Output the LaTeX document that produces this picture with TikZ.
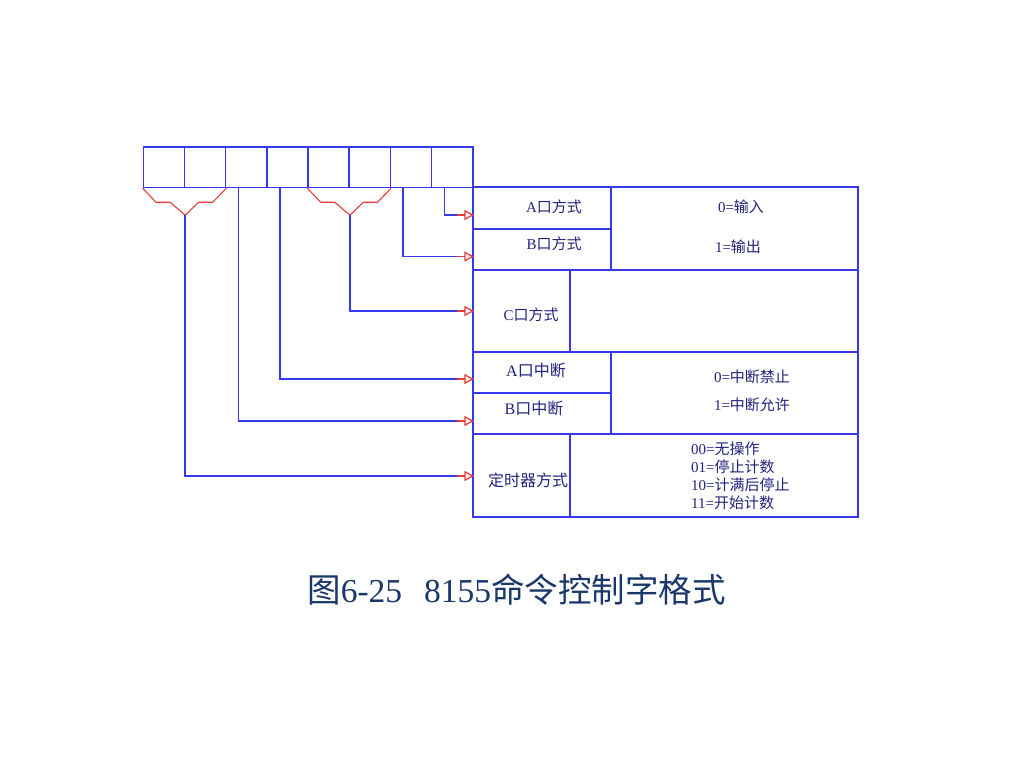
\documentclass[tikz,border=0pt]{standalone}
\usepackage{fontspec}
\setmainfont{Liberation Serif}
\newfontfamily\cjk{Noto Sans CJK SC}
\usetikzlibrary{arrows.meta}
\definecolor{lineblue}{RGB}{55,55,235}
\definecolor{txtblue}{RGB}{35,35,125}
\definecolor{capblue}{RGB}{25,55,105}
\definecolor{tipred}{RGB}{235,60,60}
\newcommand{\zh}[1]{{\cjk #1}}
\begin{document}
\begin{tikzpicture}[x=1pt,y=-1pt,
  bitbox/.style={draw=lineblue, line width=1.5pt, minimum width=41.2pt, minimum height=40.5pt, inner sep=0pt},
  cell/.style={draw=lineblue, line width=1.5pt, inner sep=0pt},
  wire/.style={lineblue, line width=1.5pt},
  brace/.style={tipred, line width=1.1pt, line join=round},
  tipline/.style={tipred, line width=1.3pt, -{Triangle[open,length=10pt,width=10pt,line width=1.3pt]}},
  lbl/.style={font=\fontsize{15}{18}\selectfont, text=txtblue, inner sep=0pt},
  lblb/.style={font=\fontsize{16}{18}\selectfont, text=txtblue, inner sep=0pt},
]
\useasboundingbox (0,0) rectangle (1024,768);
\fill[white] (0,0) rectangle (1024,768);

% bit boxes D7 ... D0
\foreach \n [count=\i from 0] in {d7,d6,d5,d4,d3,d2,d1,d0}
  \node[bitbox] (\n) at ({143.3+41.18*(\i+0.5)},167.2) {};

% table cells
\node[cell, minimum width=138pt, minimum height=42pt] (amode) at (542,208) {};
\node[cell, minimum width=138pt, minimum height=41pt] (bmode) at (542,249.5) {};
\node[cell, minimum width=247pt, minimum height=83pt] (abdesc) at (734.5,228.5) {};
\node[cell, minimum width=97pt, minimum height=82pt] (cmode) at (521.5,311) {};
\node[cell, minimum width=288pt, minimum height=82pt] (cdesc) at (714,311) {};
\node[cell, minimum width=138pt, minimum height=41pt] (aint) at (542,372.5) {};
\node[cell, minimum width=138pt, minimum height=41pt] (bint) at (542,413.5) {};
\node[cell, minimum width=247pt, minimum height=82pt] (intdesc) at (734.5,393) {};
\node[cell, minimum width=97pt, minimum height=83pt] (timer) at (521.5,475.5) {};
\node[cell, minimum width=288pt, minimum height=83pt] (timerdesc) at (714,475.5) {};

% texts
\node[lbl] (tA) at (554,207) {A\zh{口方式}};
\node[lbl] (tB) at (554,244) {B\zh{口方式}};
\node[lbl] (t0) at (741,207) {0=\zh{输入}};
\node[lbl] (t1) at (738,247) {1=\zh{输出}};
\node[lbl] (tC) at (531,315) {C\zh{口方式}};
\node[lblb] (tAi) at (536,370) {A\zh{口中断}};
\node[lblb] (tBi) at (534,408) {B\zh{口中断}};
\node[lbl] (ti0) at (752,377) {0=\zh{中断禁止}};
\node[lbl] (ti1) at (752,405) {1=\zh{中断允许}};
\node[lblb] (tT) at (528,480) {\zh{定时器方式}};
\node[lbl, anchor=west, align=left] (tTd) at (691,476)
  {00=\zh{无操作}\\01=\zh{停止计数}\\10=\zh{计满后停止}\\11=\zh{开始计数}};

% caption
\node[font=\fontsize{33.5}{38}\selectfont, text=capblue, inner sep=0pt] (cap) at (516.5,590)
  {\zh{图}6-25\hspace{22pt}8155\zh{命令控制字格式}};

% brackets (red) joining D7D6 and D3D2
\coordinate (ap76) at ([yshift=-27pt]d7.south east);
\coordinate (ap32) at ([yshift=-27pt]d3.south east);
\draw[brace] (d7.south west) -- ++(13.5,14) -- ++(14,0) -- (ap76)
  -- ++(13.5,-13) -- ++(14,0) -- (d6.south east);
\draw[brace] (d3.south west) -- ++(13.5,14) -- ++(14,0) -- (ap32)
  -- ++(13.5,-13) -- ++(14,0) -- (d2.south east);

% connectors
\coordinate (s0) at ([xshift=13.5pt]d0.south west);
\coordinate (s1) at ([xshift=13.5pt]d1.south west);
\coordinate (s4) at ([xshift=13.8pt]d4.south west);
\coordinate (s5) at ([xshift=13.6pt]d5.south west);
\coordinate (gA) at ([yshift=-7pt]amode.west);
\coordinate (gB) at ([yshift=-7pt]bmode.west);
\coordinate (gC) at (cmode.west);
\coordinate (gAi) at ([yshift=-6.5pt]aint.west);
\coordinate (gBi) at ([yshift=-7.5pt]bint.west);
\coordinate (gT) at ([yshift=-0.5pt]timer.west);

\foreach \s/\g in {s0/gA, s1/gB, ap32/gC, s4/gAi, s5/gBi, ap76/gT}{
  \draw[wire] (\s) |- ([xshift=-15pt]\g);
  \draw[tipline] ([xshift=-15.5pt]\g) -- ([xshift=2pt]\g);
}
\end{tikzpicture}
\end{document}
